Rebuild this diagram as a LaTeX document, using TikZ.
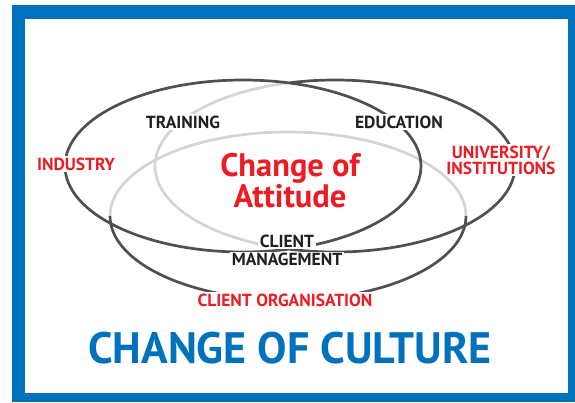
\documentclass[tikz,border=0pt]{standalone}
\usepackage{fontspec}
\setmainfont{PT Sans}

\definecolor{cultblue}{HTML}{0071BC}
\definecolor{attred}{HTML}{ED1C24}
\definecolor{ringdark}{HTML}{505050}
\definecolor{ringlight}{HTML}{D4D4D4}
\definecolor{txtdark}{HTML}{231F20}

\begin{document}
\begin{tikzpicture}[x=1pt, y=1pt,
        ring/.style={line width=2.7pt, ringdark},
        ringback/.style={line width=2.7pt, ringlight},
        lbl/.style={fill=white, inner sep=1.5pt, text=txtdark, align=center,
            font=\bfseries\fontsize{17.5}{16}\selectfont},
        hot/.style={lbl, text=attred},
        attitude/.style={text=attred, align=center, inner sep=0pt,
            font=\bfseries\fontsize{32.5}{28}\selectfont},
        culture/.style={text=cultblue, inner sep=0pt,
            font=\bfseries\fontsize{44}{44}\selectfont}]
    \useasboundingbox (0,0) rectangle (575,402);
    % frame
    \fill[cultblue] (12,0) rectangle (575,397);
    \fill[white] (25,9) rectangle (568,383);

    % the three rings
    \coordinate (lring) at (243,236);
    \coordinate (rring) at (335,236);
    \coordinate (bring) at (288,186);
    \draw[ringback] (rring) ++(104.5:180 and 86) arc[start angle=104.5, end angle=255.5, x radius=180, y radius=86];
    \draw[ringback] (bring) ++(0:178 and 84) arc[start angle=0, end angle=180, x radius=178, y radius=84];
    \draw[ring] (lring) ellipse [x radius=178, y radius=86];
    \draw[ring] (rring) ++(-104.5:180 and 86) arc[start angle=-104.5, end angle=104.5, x radius=180, y radius=86];
    \draw[ring] (bring) ++(180:178 and 84) arc[start angle=180, end angle=360, x radius=178, y radius=84];

    % labels
    \node[lbl] (train) at (183,280) {TRAINING};
    \node[lbl] (edu) at (399,280) {EDUCATION};
    \node[hot] (ind) at (76,238) {INDUSTRY};
    \node[hot] (uni) at (501,242) {UNIVERSITY/\\INSTITUTIONS};
    \node[lbl] (client) at (287,161) {CLIENT};
    \node[lbl] (mgmt) at (287,142.5) {MANAGEMENT};
    \node[hot] (org) at (285,102) {CLIENT ORGANISATION};
    \node[attitude] (att) at (290,221) {Change of\\Attitude};
    \node[culture] (cult) at (290,54) {CHANGE OF CULTURE};
\end{tikzpicture}
\end{document}
